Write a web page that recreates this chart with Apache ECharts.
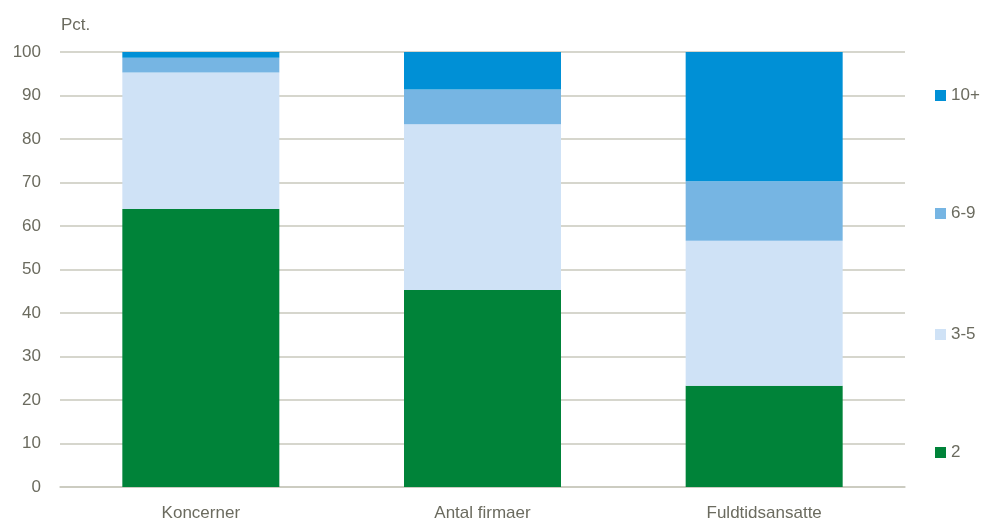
<!DOCTYPE html>
<html>
<head>
<meta charset="utf-8">
<script src="https://cdn.jsdelivr.net/npm/echarts@6/dist/echarts.min.js"></script>
<style>html,body{margin:0;padding:0;background:#fff;}#c{width:981px;height:522px;}</style>
</head>
<body>
<div id="c"></div>
<script>
const categories = ['Koncerner', 'Antal firmaer', 'Fuldtidsansatte'];
const seriesNames = ['2', '3-5', '6-9', '10+'];
const s2 = [63.9, 45.3, 23.3];
const s35 = [31.4, 38.1, 33.3];
const s69 = [3.4, 8.0, 13.7];
const s10 = [1.3, 8.6, 29.7];
const yTicks = [0, 10, 20, 30, 40, 50, 60, 70, 80, 90, 100];

const colors = ['#008339', '#cfe2f6', '#76b5e3', '#0090d6'];
const values = [s2, s35, s69, s10];
const txt = '#6b6b5f';
const font = '"Liberation Sans", Arial, sans-serif';
const legendTops = { '10+': 87, '6-9': 205, '3-5': 326, '2': 444 };

const chart = echarts.init(document.getElementById('c'));
chart.setOption({
  animation: false,
  backgroundColor: '#fff',
  textStyle: { fontFamily: font },
  title: { text: 'Pct.', left: 61, top: 17, padding: 0, textStyle: { color: txt, fontSize: 17, fontWeight: 'normal', fontFamily: font } },
  legend: seriesNames.map(n => ({
    data: [n], left: 935, top: legendTops[n], orient: 'vertical', padding: 0,
    itemWidth: 11, itemHeight: 11, itemGap: 5, icon: 'rect',
    textStyle: { color: txt, fontSize: 17, fontFamily: font }
  })),
  grid: { left: 60, right: 76, top: 52, bottom: 35, containLabel: false },
  xAxis: {
    type: 'category', data: categories,
    axisLine: { show: true, lineStyle: { color: '#c9c9bd', width: 1.5 } },
    axisTick: { show: false },
    axisLabel: { color: txt, fontSize: 17, margin: 18, fontFamily: font }
  },
  yAxis: {
    type: 'value', min: yTicks[0], max: yTicks[yTicks.length - 1], interval: 10,
    axisLine: { show: false }, axisTick: { show: false },
    axisLabel: { color: txt, fontSize: 17, margin: 19, fontFamily: font },
    splitLine: { lineStyle: { color: '#c9c9bd', width: 1.5 } }
  },
  series: seriesNames.map((n, i) => ({
    name: n, type: 'bar', stack: 'all', data: values[i], barWidth: 157,
    itemStyle: { color: colors[i] }
  }))
});
</script>
</body>
</html>
